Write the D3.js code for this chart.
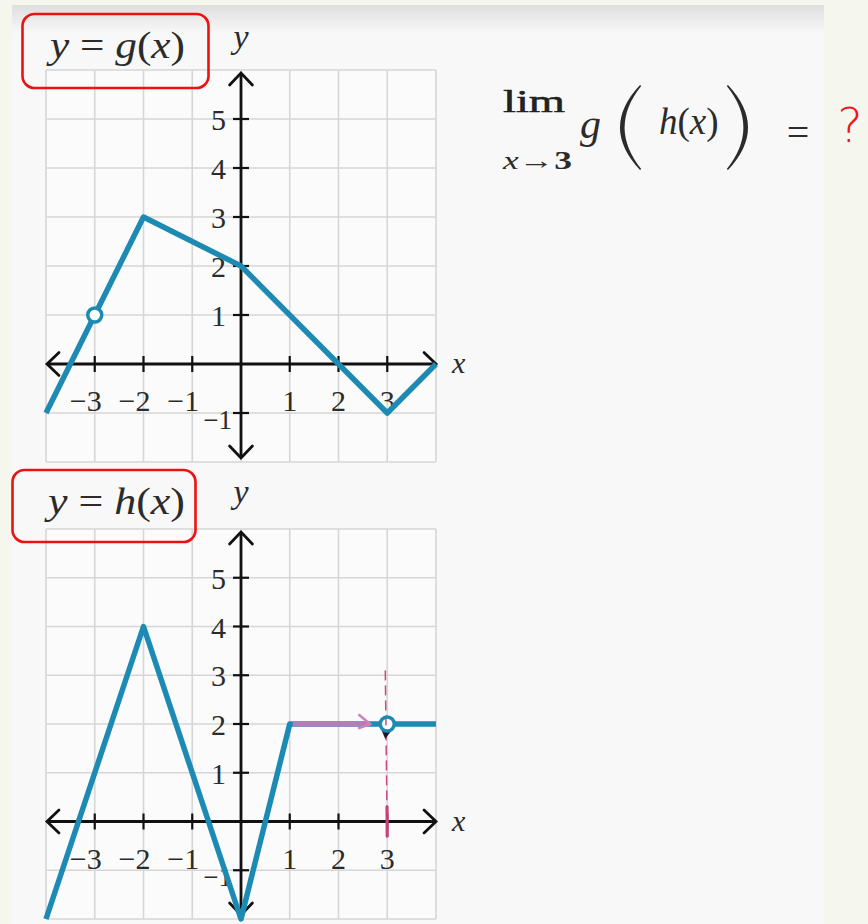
<!DOCTYPE html>
<html>
<head>
<meta charset="utf-8">
<script src="https://cdn.jsdelivr.net/npm/d3@7/dist/d3.min.js"></script>
<style>
  html, body { margin: 0; padding: 0; background: #f5f6ee; }
  svg { display: block; }
  .math { font-family: "Liberation Serif", "DejaVu Serif", serif; fill: #2b2b2b; }
</style>
</head>
<body>
<svg id="chart" width="868" height="924"></svg>
<script>
// Grid extent (both graphs share it)
const xDomain = [-4, 4];
const yDomain = [-2, 6];
const xTicks = [-3, -2, -1, 1, 2, 3];
const yTicks = [-1, 1, 2, 3, 4, 5];

// y = g(x): vertices of the piecewise-linear curve and its hole
const gPoints = [[-4, -1], [-2, 3], [0, 2], [3, -1], [4, 0]];
const gHoles = [[-3, 1]];

// y = h(x): vertices and hole
const hPoints = [[-4, -2], [-2, 4], [0, -2], [1, 2], [4, 2]];
const hHoles = [[3, 2]];

// hand annotations on h: approach arrow along y = 2 and a guide at x = 3
const approachArrow = [[1, 2], [2.65, 2]];
const guideLine = [[2.96, 3.1], [3.0, -0.3]];

const BLUE = "#1d8ab3";
const svg = d3.select("#chart");

// page panel with a soft shadow along its top edge
const defs = svg.append("defs");
const grad = defs.append("linearGradient").attr("id", "topShade")
  .attr("x1", 0).attr("y1", 0).attr("x2", 0).attr("y2", 1);
grad.append("stop").attr("offset", "0").attr("stop-color", "#dedede");
grad.append("stop").attr("offset", "1").attr("stop-color", "#f8f8f8");
svg.append("rect").attr("x", 12).attr("y", 5).attr("width", 812).attr("height", 919).attr("fill", "#f8f8f8");
svg.append("rect").attr("x", 12).attr("y", 5).attr("width", 812).attr("height", 28).attr("fill", "url(#topShade)");

function chevron(g, tip, dir, size) {
  // open arrowhead whose tip points along dir
  const [tx, ty] = tip, [dx, dy] = dir;
  const px = -dy, py = dx;
  const a = [tx - dx * size + px * size * 0.95, ty - dy * size + py * size * 0.95];
  const b = [tx - dx * size - px * size * 0.95, ty - dy * size - py * size * 0.95];
  g.append("path")
    .attr("d", `M${a[0]},${a[1]} L${tx},${ty} L${b[0]},${b[1]}`)
    .attr("fill", "none").attr("stroke", "#111").attr("stroke-width", 2.8)
    .attr("stroke-linejoin", "miter").attr("stroke-linecap", "round");
}

function drawGraph(cfg) {
  const x = d3.scaleLinear().domain(xDomain).range([46, 436]);
  const y = d3.scaleLinear().domain(yDomain).range(cfg.yRange);
  const g = svg.append("g");

  // graph background and grid
  g.append("rect").attr("x", x(xDomain[0])).attr("y", y(yDomain[1]))
    .attr("width", x(xDomain[1]) - x(xDomain[0])).attr("height", y(yDomain[0]) - y(yDomain[1]))
    .attr("fill", "#fbfbfb");
  g.selectAll(".vgrid").data(d3.range(xDomain[0], xDomain[1] + 1)).join("line")
    .attr("x1", d => x(d)).attr("x2", d => x(d))
    .attr("y1", y(yDomain[0])).attr("y2", y(yDomain[1]))
    .attr("stroke", "#d6d6d6").attr("stroke-width", 1.6);
  g.selectAll(".hgrid").data(d3.range(yDomain[0], yDomain[1] + 1)).join("line")
    .attr("y1", d => y(d)).attr("y2", d => y(d))
    .attr("x1", x(xDomain[0])).attr("x2", x(xDomain[1]))
    .attr("stroke", "#d6d6d6").attr("stroke-width", 1.6);

  // axes with arrowheads
  const x0 = x(0), y0 = y(0);
  const yTop = y(yDomain[1]) + 3, yBot = y(yDomain[0]) - 4;
  g.append("line").attr("x1", x(xDomain[0]) + 1).attr("x2", x(xDomain[1]))
    .attr("y1", y0).attr("y2", y0).attr("stroke", "#111").attr("stroke-width", 2.8);
  g.append("line").attr("x1", x0).attr("x2", x0).attr("y1", yTop).attr("y2", yBot)
    .attr("stroke", "#111").attr("stroke-width", 2.8);
  chevron(g, [x(xDomain[1]), y0], [1, 0], 12);
  chevron(g, [x(xDomain[0]) + 1, y0], [-1, 0], 12);
  chevron(g, [x0, yTop], [0, -1], 12);
  chevron(g, [x0, yBot], [0, 1], 12);

  // tick marks
  g.selectAll(".xt").data(xTicks).join("line")
    .attr("x1", d => x(d)).attr("x2", d => x(d)).attr("y1", y0 - 8).attr("y2", y0 + 8)
    .attr("stroke", "#111").attr("stroke-width", 2.2);
  g.selectAll(".yt").data(yTicks).join("line")
    .attr("y1", d => y(d)).attr("y2", d => y(d)).attr("x1", x0 - 8).attr("x2", x0 + 8)
    .attr("stroke", "#111").attr("stroke-width", 2.2);

  // tick labels
  const fmt = d => (d < 0 ? "\u2212" : "") + Math.abs(d);
  g.selectAll(".xl").data(xTicks).join("text").attr("class", "math")
    .attr("x", d => d < 0 ? x(d) + 7 : x(d))
    .attr("y", y0 + 47)
    .attr("text-anchor", d => d < 0 ? "end" : "middle")
    .attr("font-size", 30).text(fmt);
  g.selectAll(".yl").data(yTicks).join("text").attr("class", "math")
    .attr("x", d => d < 0 ? x0 - 9 : x0 - 15)
    .attr("y", d => y(d) + (d < 0 ? 16 : 11))
    .attr("text-anchor", "end")
    .attr("font-size", d => d < 0 ? 27 : 30).text(fmt);

  // axis names
  g.append("text").attr("class", "math").attr("font-style", "italic").attr("font-size", 34)
    .attr("x", x0).attr("y", cfg.yNameY).attr("text-anchor", "middle").text("y");
  g.append("text").attr("class", "math").attr("font-style", "italic").attr("font-size", 30)
    .attr("x", 452).attr("y", y0 + 9).text("x");

  // function curve
  const line = d3.line().x(d => x(d[0])).y(d => y(d[1]));
  g.append("path").attr("d", line(cfg.points))
    .attr("fill", "none").attr("stroke", BLUE).attr("stroke-width", 5.5)
    .attr("stroke-linejoin", "round");

  if (cfg.annotate) cfg.annotate(g, x, y);

  // holes
  g.selectAll(".hole").data(cfg.holes).join("circle")
    .attr("cx", d => x(d[0])).attr("cy", d => y(d[1])).attr("r", 7)
    .attr("fill", cfg.annotate ? "none" : "#ffffff")
    .attr("stroke", BLUE).attr("stroke-width", 3.5);

  // boxed title
  const b = cfg.box;
  svg.append("rect").attr("x", b.x).attr("y", b.y).attr("width", b.w).attr("height", b.h)
    .attr("rx", 12).attr("fill", "none").attr("stroke", "#ee1111").attr("stroke-width", 2.6);
  const t = svg.append("text").attr("class", "math").attr("font-size", 38)
    .attr("x", b.textX).attr("y", b.textY)
    .attr("textLength", b.textW).attr("lengthAdjust", "spacingAndGlyphs");
  t.append("tspan").attr("font-style", "italic").text("y");
  t.append("tspan").text(" = ");
  t.append("tspan").attr("font-style", "italic").text(cfg.fname);
  t.append("tspan").text("(");
  t.append("tspan").attr("font-style", "italic").text("x");
  t.append("tspan").text(")");
}

drawGraph({
  yRange: [462, 70], points: gPoints, holes: gHoles, fname: "g", yNameY: 48,
  box: { x: 22.5, y: 14, w: 186, h: 74, textX: 50, textY: 58, textW: 135 }
});

drawGraph({
  yRange: [919, 529], points: hPoints, holes: hHoles, fname: "h", yNameY: 503,
  box: { x: 12.5, y: 470, w: 183, h: 72, textX: 48, textY: 514, textW: 137 },
  annotate: (g, x, y) => {
    // hole fill beneath the pen marks
    g.selectAll(".holebg").data(hHoles).join("circle")
      .attr("cx", d => x(d[0])).attr("cy", d => y(d[1])).attr("r", 6).attr("fill", "#ffffff");
    // pink approach arrow along y = 2
    const [p0, p1] = approachArrow;
    g.append("line").attr("x1", x(p0[0]) + 3).attr("y1", y(p0[1]))
      .attr("x2", x(p1[0])).attr("y2", y(p1[1]))
      .attr("stroke", "#c77bb6").attr("stroke-width", 5).attr("opacity", 0.9);
    const tx = x(p1[0]), ty = y(p1[1]);
    g.append("path").attr("d", `M${tx - 11},${ty - 9} L${tx},${ty} L${tx - 11},${ty + 4}`)
      .attr("fill", "none").attr("stroke", "#d07fba").attr("stroke-width", 2.5)
      .attr("stroke-linecap", "round");
    // dashed guide at x = 3, solid near the axis
    const [q0, q1] = guideLine;
    g.append("line").attr("x1", x(q0[0])).attr("y1", y(q0[1]))
      .attr("x2", x(q1[0])).attr("y2", y(q1[1]))
      .attr("stroke", "#cc4a82").attr("stroke-width", 1.5).attr("stroke-dasharray", "10,5");
    g.append("line").attr("x1", x(2.995)).attr("y1", y(0.3))
      .attr("x2", x(q1[0])).attr("y2", y(q1[1]))
      .attr("stroke", "#c8407c").attr("stroke-width", 3.2).attr("stroke-linecap", "round");
    // small dark pointer next to the hole
    const cx = x(hHoles[0][0]), cy = y(hHoles[0][1]);
    g.append("path").attr("d", `M${cx - 7},${cy + 3} L${cx + 3},${cy + 8} L${cx - 2},${cy + 15} Z`)
      .attr("fill", "#1a1a2a");
  }
});

// limit expression
const lim = svg.append("g").attr("class", "math");
lim.append("text").attr("x", 503).attr("y", 112).attr("font-size", 31)
  .attr("textLength", 62).attr("lengthAdjust", "spacingAndGlyphs")
  .attr("fill", "#222").attr("stroke", "#222").attr("stroke-width", 0.5).text("lim");
const sub = lim.append("text").attr("x", 503).attr("y", 169).attr("font-size", 25)
  .attr("textLength", 69).attr("lengthAdjust", "spacingAndGlyphs");
sub.append("tspan").attr("font-style", "italic").text("x");
sub.append("tspan").text("\u2192");
sub.append("tspan").attr("font-weight", "bold").text("3");
lim.append("text").attr("x", 580).attr("y", 138).attr("font-size", 42)
  .attr("font-style", "italic").text("g");

// tall parentheses drawn as tapered strokes
function bigParen(xEdge, top, bottom, sign) {
  const mid = (top + bottom) / 2, bulge = 40 * sign;
  const d = `M${xEdge},${top} Q${xEdge - bulge},${mid} ${xEdge},${bottom}` +
            ` L${xEdge + 1.2 * sign},${bottom - 1} Q${xEdge - bulge + 8 * sign},${mid} ${xEdge + 1.2 * sign},${top + 1} Z`;
  svg.append("path").attr("d", d).attr("fill", "#2b2b2b");
}
bigParen(640, 85, 170, 1);
bigParen(728, 85, 170, -1);

const inner = lim.append("text").attr("x", 659).attr("y", 134).attr("font-size", 37);
inner.append("tspan").attr("font-style", "italic").text("h");
inner.append("tspan").text("(");
inner.append("tspan").attr("font-style", "italic").text("x");
inner.append("tspan").text(")");

lim.append("text").attr("x", 798).attr("y", 146).attr("font-size", 40)
  .attr("text-anchor", "middle").text("=");
svg.append("text").attr("x", 850).attr("y", 142).attr("font-size", 48)
  .attr("text-anchor", "middle").attr("font-family", "'DejaVu Sans', sans-serif")
  .attr("font-weight", 200).attr("fill", "#ee1616").text("?");
</script>
</body>
</html>
